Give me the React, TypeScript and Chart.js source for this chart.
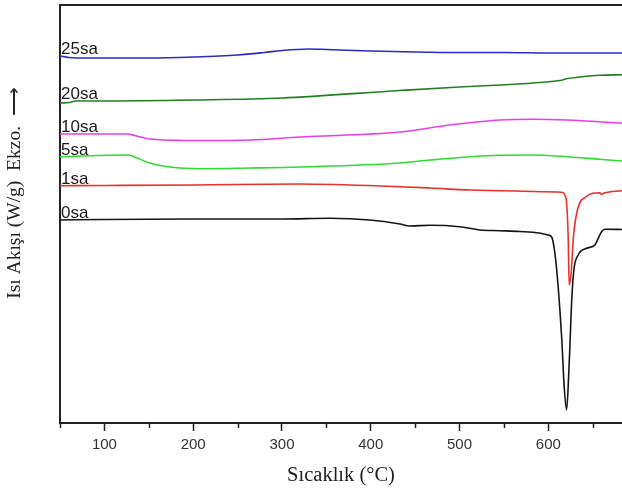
import React, { useEffect, useRef } from 'react';
import { Chart, registerables } from 'chart.js';

Chart.register(...registerables);

// Temperatures (°C) and heat-flow readings (arbitrary units, exo up) for each sample
const labels = ['0sa', '1sa', '5sa', '10sa', '20sa', '25sa'];
const colors = ['#151515', '#e8302c', '#2fdc2f', '#e83ee8', '#237f23', '#2b2bc4'];

const t0 = [50, 100, 200, 300, 354, 399, 433, 444, 467, 500, 523, 545, 568, 590, 600, 603.7, 607.4, 611.1, 615, 617.9, 620.6, 623.2, 624.3, 626.2, 628.8, 633.7, 643.1, 652.5, 656.2, 660, 663.7, 683];
const v0 = [203, 203.5, 204, 204, 204.7, 203, 199, 197, 197.7, 196.3, 193, 192.3, 191.5, 190, 188, 186.3, 170, 136.3, 86.3, 36.3, 13, 53, 76.3, 120, 153, 168, 174.7, 178, 184.7, 191.3, 193.7, 193.5];

const t1 = [50, 100, 200, 320, 433, 467, 512, 546, 583, 610, 616, 618.7, 620.6, 622.4, 623.5, 626, 628.3, 632.8, 642, 658, 660, 663, 683];
const v1 = [237.3, 237.5, 238, 239, 236.3, 235, 233, 232.3, 231.5, 231, 230.5, 228, 220, 186, 138, 153, 186, 213, 226, 230.3, 228.5, 230, 232.3];

const t5 = [50, 127, 134, 151, 174, 208, 264, 320, 433, 467, 512, 546, 583, 621, 658, 683];
const v5 = [266.3, 268, 266, 260, 256, 254.3, 255, 256, 260, 263, 266.3, 267.7, 268, 266.3, 263.7, 262];

const t10 = [50, 127, 134, 151, 208, 264, 320, 433, 489, 546, 583, 621, 658, 683];
const v10 = [289, 289, 287.5, 284, 282.5, 283, 286, 291, 298, 303, 303.7, 303, 301.3, 299.7];

const t20 = [50, 61, 67, 95, 200, 300, 433, 500, 546, 583, 613, 622, 640, 658, 683];
const v20 = [320, 320.5, 322, 322, 323, 325, 332.5, 336, 338, 340, 342.5, 344.5, 346.5, 347.7, 348.3];

const t25 = [50, 60, 80, 150, 200, 250, 280, 300, 330, 350, 400, 450, 500, 550, 600, 683];
const v25 = [367, 365.5, 365, 365, 366, 368, 370.5, 372.5, 374, 373.5, 372, 371, 370.5, 370.5, 370, 370];

const temps = [t0, t1, t5, t10, t20, t25];
const flows = [v0, v1, v5, v10, v20, v25];

const xTicks = [100, 200, 300, 400, 500, 600];
const xMinorTicks = [50, 150, 250, 350, 450, 550, 650];
const xTitle = 'Sıcaklık (°C)';
const yTitle = 'Isı Akışı (W/g)  Ekzo.  ⟶';

const decor = {
  id: 'decor',
  afterDraw(chart: any) {
    const { ctx, chartArea, scales } = chart;
    const { left, right, top, bottom } = chartArea;
    const x = scales.x;
    const y = scales.y;
    ctx.save();
    // top frame
    ctx.strokeStyle = '#222';
    ctx.lineWidth = 2;
    ctx.beginPath();
    ctx.moveTo(left - 1, top);
    ctx.lineTo(right, top);
    ctx.stroke();
    // minor ticks
    ctx.lineWidth = 1.5;
    ctx.beginPath();
    xMinorTicks.forEach((v) => {
      const px = Math.round(x.getPixelForValue(v)) + 0.5;
      ctx.moveTo(px, bottom);
      ctx.lineTo(px, bottom + 5);
    });
    ctx.stroke();
    // series labels
    ctx.font = '17px "Liberation Sans", Arial, sans-serif';
    ctx.fillStyle = '#1a1a1a';
    ctx.textAlign = 'left';
    ctx.textBaseline = 'alphabetic';
    labels.forEach((lab, i) => {
      const ts = temps[i];
      const vs = flows[i];
      let vmax = -Infinity;
      ts.forEach((t, k) => { if (t <= 90) vmax = Math.max(vmax, vs[k]); });
      const py = y.getPixelForValue(vmax) - 2;
      ctx.fillText(lab, x.getPixelForValue(ts[0]) + 1, py);
    });
    // x title
    ctx.font = '20.5px "Liberation Serif", "Times New Roman", serif';
    ctx.fillStyle = '#222';
    ctx.textAlign = 'center';
    ctx.textBaseline = 'middle';
    ctx.fillText(xTitle, (left + right) / 2, 476);
    // y title
    ctx.save();
    ctx.translate(15, 193);
    ctx.rotate(-Math.PI / 2);
    ctx.font = '19.5px "Liberation Serif", "Times New Roman", serif';
    ctx.fillText(yTitle, 0, 0);
    ctx.restore();
    ctx.restore();
  },
};

export default function App() {
  const ref = useRef<HTMLCanvasElement | null>(null);
  useEffect(() => {
    if (!ref.current) return;
    const datasets = labels.map((lab, i) => ({
      label: lab,
      data: temps[i].map((t, k) => ({ x: t, y: flows[i][k] })),
      borderColor: colors[i],
      borderWidth: 1.6,
      pointRadius: 0,
      fill: false,
      cubicInterpolationMode: 'monotone' as const,
    }));
    const chart = new Chart(ref.current, {
      type: 'line',
      data: { datasets },
      options: {
        animation: false,
        responsive: false,
        maintainAspectRatio: false,
        layout: { padding: { top: 5, left: 0, right: 0, bottom: 0 } },
        plugins: { legend: { display: false }, tooltip: { enabled: false } },
        scales: {
          x: {
            type: 'linear',
            min: 50,
            max: 683,
            afterBuildTicks: (s: any) => { s.ticks = xTicks.map((v) => ({ value: v })); },
            afterFit: (s: any) => { s.height = 67; },
            ticks: {
              color: '#333',
              font: { family: '"Liberation Sans", Arial, sans-serif', size: 15 },
              padding: 5,
              maxRotation: 0,
              autoSkip: false,
            },
            grid: { display: true, drawOnChartArea: false, drawTicks: true, tickLength: 8, tickColor: '#222', tickWidth: 1.5 },
            border: { display: true, color: '#222', width: 2 },
          },
          y: {
            type: 'linear',
            min: 0,
            max: 418,
            afterFit: (s: any) => { s.width = 60; },
            ticks: { display: false },
            grid: { display: true, drawOnChartArea: false, drawTicks: false },
            border: { display: true, color: '#222', width: 2 },
          },
        },
      },
      plugins: [decor],
    });
    return () => chart.destroy();
  }, []);
  return (
    <div style={{ position: 'fixed', left: 0, top: 0, width: 622, height: 490, background: '#fff' }}>
      <canvas ref={ref} width={622} height={490} style={{ width: 622, height: 490, display: 'block' }} />
    </div>
  );
}
